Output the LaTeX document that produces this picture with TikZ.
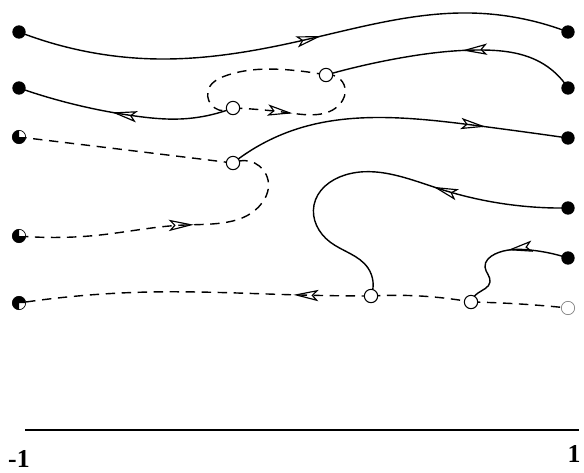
\documentclass[tikz,border=0pt]{standalone}
\usepackage{fontspec}
\setmainfont{Liberation Serif}
\usetikzlibrary{hobby,arrows.meta,decorations.markings}
\pgfdeclarelayer{bg}
\pgfsetlayers{bg,main}

\begin{document}
\begin{tikzpicture}[x=0.03cm,y=-0.03cm,
	full/.style={circle,fill=black,inner sep=0pt,minimum size=4mm},
	part/.style={circle,draw=black,line width=0.6pt,fill=white,inner sep=0pt,minimum size=4mm},
	hole/.style={circle,draw=black,line width=0.9pt,fill=white,inner sep=0pt,minimum size=4mm},
	flow/.style={line width=1.2pt,use Hobby shortcut},
	ghost/.style={flow,dash pattern=on 2.8mm off 2mm},
	flowarrow/.style={postaction={decorate},decoration={markings,
		mark=at position #1 with {\arrow{Stealth[open,line width=1pt,length=7.5mm,width=3.4mm,inset=1.6mm]}}}},
	axlabel/.style={font=\fontsize{22}{26}\selectfont\bfseries,inner sep=0pt}
	]
	\useasboundingbox (0,0) rectangle (584,473);

	%left end points
	\node[full] (l1) at (19,32) {};
	\node[full] (l2) at (19,88) {};
	\node[part] (l3) at (19,137) {};
	\node[part] (l4) at (19,236) {};
	\node[part] (l5) at (19,303) {};
	\fill (l3.center) -- +(90:2mm) arc (90:360:2mm) -- cycle;
	\fill (l4.center) -- +(90:2mm) arc (90:360:2mm) -- cycle;
	\fill (l5.center) -- +(0:2mm) arc (0:270:2mm) -- cycle;

	%right end points
	\node[full] (r1) at (568,32) {};
	\node[full] (r2) at (568,88) {};
	\node[full] (r3) at (568,138) {};
	\node[full] (r4) at (568,208) {};
	\node[full] (r5) at (568,258) {};
	\node[hole,draw=gray,line width=0.6pt] (r6) at (568,308) {};

	%holes on the way
	\node[hole] (h1) at (326,75) {};
	\node[hole] (h2) at (233,108) {};
	\node[hole] (h3) at (233,163) {};
	\node[hole] (h4) at (371,296) {};
	\node[hole] (h5) at (471,302) {};

	\begin{pgfonlayer}{bg}
	%solid paths
	\draw[flow,flowarrow=0.55] (l1.center) .. (160,59) .. (300,41) .. (470,13) .. (r1.center);
	\draw[flow,flowarrow=0.46] (r2.center) .. (540,62) .. (480,50) .. (400,58) .. (h1.center);
	\draw[flow,flowarrow=0.56] (h2.center) .. (180,119) .. (135,116) .. (l2.center);
	\draw[flow,flowarrow=0.76] (h3.center) .. (300,128) .. (400,118) .. (480,126) .. (r3.center);
	\draw[flow,flowarrow=0.35] (r4.center) .. (440,189) .. (345,175) .. (314,205) .. (330,242) .. (368,268) .. (h4.center);
	\draw[flow,flowarrow=0.45] (r5.center) .. (530,250) .. (495,254) .. (485,267) .. (490,282) .. (478,293) .. (h5.center);

	%dashed loop
	\draw[ghost,flowarrow=0.39] (h2.center) .. (290,113) .. (340,104) .. (345,88) .. (h1.center);
	\draw[ghost] (h1.center) .. (290,70) .. (225,76) .. (208,91) .. (h2.center);

	%dashed bend
	\draw[ghost,flowarrow=0.55] (l4.center) .. (100,235) .. (185,225) .. (262,203) .. (268,180) .. (h3.center);
	\draw[ghost] (h3.center) .. (110,148) .. (l3.center);

	%dashed bottom
	\draw[ghost,flowarrow=0.22] (h4.center) .. (300,295) .. (150,292) .. (l5.center);
	\draw[ghost] (h4.center) .. (420,296) .. (h5.center);
	\draw[ghost] (h5.center) .. (520,304) .. (r6.center);
	\end{pgfonlayer}

	%axis
	\coordinate (ax0) at (25,430);
	\coordinate (ax1) at (579,430);
	\draw[line width=1.1pt] (ax0) -- (ax1);
	\node[axlabel,anchor=west] (lo) at (8,459) {-1};
	\node[axlabel] (hi) at (574,454) {1};
\end{tikzpicture}
\end{document}
